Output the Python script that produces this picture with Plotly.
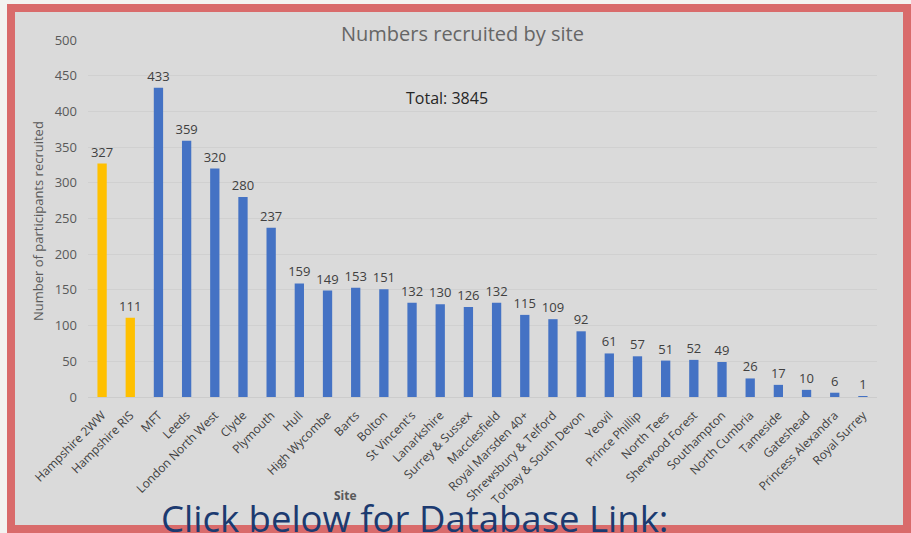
import plotly.graph_objects as go

sites = ["Hampshire 2WW", "Hampshire RIS", "MFT", "Leeds", "London North West", "Clyde",
         "Plymouth", "Hull", "High Wycombe", "Barts", "Bolton", "St Vincent's", "Lanarkshire",
         "Surrey & Sussex", "Macclesfield", "Royal Marsden 40+", "Shrewsbury & Telford",
         "Torbay & South Devon", "Yeovil", "Prince Phillip", "North Tees", "Sherwood Forest",
         "Southampton", "North Cumbria", "Tameside", "Gateshead", "Princess Alexandra",
         "Royal Surrey"]
recruited = [327, 111, 433, 359, 320, 280, 237, 159, 149, 153, 151, 132, 130, 126, 132,
             115, 109, 92, 61, 57, 51, 52, 49, 26, 17, 10, 6, 1]
highlight_sites = ["Hampshire 2WW", "Hampshire RIS"]
yticks = [0, 50, 100, 150, 200, 250, 300, 350, 400, 450, 500]

YELLOW = "#ffc000"
BLUE = "#4472c4"
colors = [YELLOW if s in highlight_sites else BLUE for s in sites]

W, H = 911, 533
ML, MR, MT, MB = 88, 34, 40, 136
pw = W - ML - MR
ph = H - MT - MB


def px(x):
    return (x - ML) / pw


def py(y):
    return (H - MB - y) / ph


fig = go.Figure()
fig.add_trace(go.Bar(
    x=sites, y=recruited, marker=dict(color=colors, line=dict(width=0)),
    text=[str(v) for v in recruited], textposition="outside", constraintext="none",
    textfont=dict(family="Open Sans, sans-serif", size=13, color="#404040"),
    cliponaxis=False, width=0.33,
))

fig.update_layout(
    width=W, height=H,
    margin=dict(l=ML, r=MR, t=MT, b=MB, autoexpand=False),
    paper_bgcolor="#f3f3f1",
    plot_bgcolor="rgba(0,0,0,0)",
    showlegend=False,
    font=dict(family="Open Sans, sans-serif", color="#595959"),
    xaxis=dict(
        range=[-0.5, len(sites) - 0.5], tickangle=-45, showgrid=False,
        tickfont=dict(size=12, color="#404040"), ticks="", showline=False,
        ticklabelstandoff=8, automargin=False,
    ),
    yaxis=dict(
        range=[0, 500], tickvals=yticks, showgrid=True, gridcolor="#d0d0d0",
        gridwidth=1, zeroline=True, zerolinecolor="#cccccc", zerolinewidth=1,
        tickfont=dict(size=13, color="#595959"), ticks="", ticklabelstandoff=10,
        automargin=False,
    ),
    shapes=[
        dict(type="rect", xref="paper", yref="paper", layer="below",
             x0=px(11), x1=px(907), y0=py(529), y1=py(8),
             fillcolor="#dadada", line=dict(color="#d96b6b", width=8)),
    ],
    annotations=[
        dict(text="Numbers recruited by site", xref="paper", yref="paper",
             x=px(462), y=py(33), showarrow=False, xanchor="center", yanchor="middle",
             font=dict(size=20, color="#666666")),
        dict(text="Total: 3845", xref="paper", yref="paper",
             x=px(447), y=py(98), showarrow=False, xanchor="center", yanchor="middle",
             font=dict(size=16, color="#262626")),
        dict(text="Number of participants recruited", xref="paper", yref="paper",
             x=px(38), y=py(221), showarrow=False, textangle=-90,
             xanchor="center", yanchor="middle",
             font=dict(size=13, color="#595959")),
        dict(text="<b>Site</b>", xref="paper", yref="paper",
             x=px(345), y=py(496), showarrow=False, xanchor="center", yanchor="middle",
             font=dict(size=12, color="#595959")),
        dict(text="Click below for Database Link:", xref="paper", yref="paper",
             x=px(414), y=py(518), showarrow=False, xanchor="center", yanchor="middle",
             font=dict(family="Open Sans, sans-serif", size=36.5, color="#1c3a70")),
    ],
)

fig.write_html("out.html", config={"displayModeBar": False},
               post_script="document.body.style.margin='0';document.body.style.overflow='hidden';")
